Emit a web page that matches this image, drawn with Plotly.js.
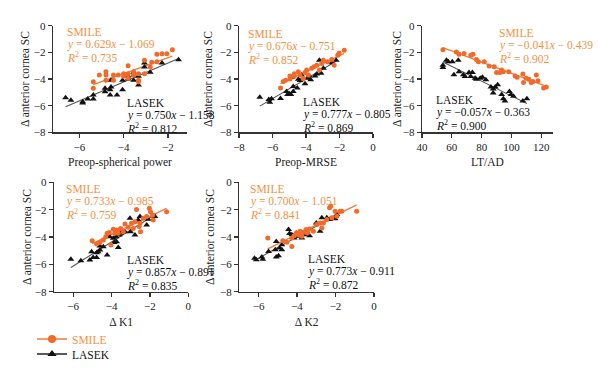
<!DOCTYPE html>
<html><head><meta charset="utf-8">
<script src="https://cdn.plot.ly/plotly-3.0.1.min.js"></script>
<style>html,body{margin:0;padding:0;background:#fff}#chart{width:600px;height:379px}</style>
</head><body><div id="chart"></div>
<script>
// ---------- Data ----------
// Panel 1: Preop-spherical power
var p1SmileX = [-5.37,-5.37,-5.1,-4.8,-4.8,-4.8,-4.46,-4.46,-4.24,-4.0,-4.0,-3.8,-3.8,-3.8,-3.55,-3.55,-3.33,-3.33,-3.33,-3.06,-3.06,-2.8,-2.5,-2.5,-2.27,-2.05,-1.8,-2.73];
var p1SmileY = [-4.2,-4.7,-3.7,-4.1,-3.45,-3.7,-3.7,-4.1,-3.7,-3.6,-3.8,-3.0,-3.6,-3.95,-3.45,-3.7,-3.6,-4.1,-4.2,-2.6,-3.6,-3.1,-2.15,-2.7,-2.1,-2.1,-1.8,-2.75];
var p1LasekX = [-6.62,-6.38,-5.85,-5.85,-5.62,-5.37,-5.37,-4.84,-4.84,-4.61,-4.61,-4.57,-4.57,-4.3,-4.05,-4.05,-3.8,-3.8,-3.55,-3.55,-3.33,-3.33,-3.06,-3.06,-2.8,-2.27,-1.52,-3.55];
var p1LasekY = [-5.4,-5.6,-5.7,-5.8,-5.5,-5.2,-5.5,-4.7,-4.95,-4.8,-5.2,-4.1,-4.6,-5.2,-4.8,-4.1,-4.0,-3.8,-3.5,-4.1,-4.45,-3.8,-3.1,-2.8,-3.5,-2.8,-2.55,-3.7];
// Panel 2: Preop-MRSE
var p2SmileX = [-5.52,-5.36,-5.22,-4.96,-4.96,-4.7,-4.7,-4.46,-4.36,-4.06,-3.96,-3.86,-3.66,-3.52,-3.36,-3.2,-3.06,-2.96,-2.72,-2.46,-2.32,-2.1,-2.02,-1.72,-4.16];
var p2SmileY = [-4.68,-4.19,-4.1,-4.0,-3.77,-3.6,-3.8,-3.45,-3.7,-3.52,-3.33,-3.7,-3.2,-3.08,-2.96,-3.33,-2.83,-2.59,-2.71,-2.54,-2.96,-2.22,-2.04,-1.85,-3.99];
var p2LasekX = [-6.76,-6.22,-6.16,-6.06,-5.52,-5.16,-5.1,-5.0,-4.9,-4.86,-4.76,-4.52,-4.46,-4.36,-4.26,-4.06,-3.92,-3.8,-3.72,-3.46,-3.36,-3.2,-3.1,-2.96,-2.46,-2.2,-4.76];
var p2LasekY = [-5.37,-5.54,-5.74,-5.49,-5.47,-4.93,-5.17,-5.1,-5.17,-3.87,-4.56,-4.68,-4.01,-4.11,-3.7,-4.36,-3.94,-3.77,-4.06,-3.77,-3.62,-2.59,-3.57,-3.2,-2.78,-2.59,-4.93];
// Panel 3: LT/AD
var p3SmileX = [54,63,64.8,68.2,72.7,74.2,76.5,77.8,81.7,85,88.4,90,92.3,93.4,94.5,98.1,102.4,103.7,107.6,108,111.6,113.2,114.3,116.6,117.7,121.5,123.3,109.8];
var p3SmileY = [-1.8,-1.97,-2.14,-2.09,-2.22,-2.14,-2.54,-2.71,-2.71,-3.03,-3.08,-3.52,-3.52,-3.33,-3.45,-3.45,-3.77,-3.87,-3.62,-4.26,-4.01,-4.26,-4.19,-3.7,-4.14,-4.68,-4.6,-3.94];
var p3LasekX = [54,54,56.4,57.6,60.3,61.4,64.3,64.8,67.7,68.8,71.5,72.7,73.8,75.6,76.5,79,80.5,82.8,86.2,87.7,89.1,90.7,93.4,94.5,95.6,98.6,99.7,101.3,107.6,110.3,87.7];
var p3LasekY = [-2.96,-3.13,-2.59,-2.71,-2.71,-3.69,-2.59,-3.45,-3.69,-3.82,-3.52,-3.82,-3.52,-3.94,-4.01,-3.94,-3.87,-4.06,-4.6,-4.75,-4.6,-4.43,-5.17,-5.49,-5.66,-4.93,-5.17,-5.3,-5.66,-5.49,-5.05];
// Panel 4: Δ K1
var p4SmileX = [-5.01,-4.78,-4.61,-4.43,-4.30,-4.23,-4.12,-4.03,-3.91,-3.83,-3.74,-3.65,-3.53,-3.39,-3.30,-3.13,-2.96,-2.87,-2.78,-2.70,-2.56,-2.49,-2.35,-2.17,-2.03,-1.97,-1.86,-1.83,-1.13,-2.52];
var p4SmileY = [-4.27,-4.51,-4.41,-4.22,-3.98,-3.73,-3.68,-4.59,-3.44,-3.73,-3.49,-3.73,-3.37,-3.61,-3.05,-3.29,-3.0,-3.37,-2.88,-1.98,-3.24,-3.61,-2.63,-2.51,-1.90,-2.15,-2.39,-2.76,-2.15,-3.0];
var p4LasekX = [-6.12,-5.6,-5.13,-5.04,-4.96,-4.78,-4.78,-4.70,-4.61,-4.61,-4.43,-4.23,-4.09,-3.91,-3.77,-3.74,-3.65,-3.6,-3.53,-3.30,-3.04,-3.01,-2.78,-2.61,-2.52,-2.17,-2.09,-1.74,-3.86];
var p4LasekY = [-5.63,-5.73,-5.68,-5.07,-5.49,-5.49,-5.15,-5.07,-4.95,-4.66,-4.71,-5.32,-3.98,-4.10,-3.98,-4.34,-4.76,-3.85,-3.73,-3.61,-2.63,-3.61,-3.85,-2.76,-2.51,-3.12,-2.71,-2.51,-4.41];
// Panel 5: Δ K2
var p5SmileX = [-5.52,-4.74,-4.53,-4.27,-4.27,-4.15,-4.04,-3.92,-3.84,-3.75,-3.66,-3.53,-3.46,-3.35,-3.15,-2.97,-2.71,-2.63,-2.45,-2.31,-2.25,-2.19,-2.02,-1.93,-1.76,-1.67,-0.9,-2.80];
var p5SmileY = [-4.07,-4.27,-4.39,-4.69,-4.07,-3.90,-3.71,-3.83,-3.58,-3.95,-3.66,-3.46,-3.71,-3.41,-3.58,-3.09,-3.34,-2.97,-2.72,-1.87,-1.74,-2.60,-2.11,-2.48,-2.11,-2.11,-2.11,-2.97];
var p5LasekX = [-6.21,-6.12,-5.83,-5.78,-5.48,-5.13,-5.08,-5.08,-4.96,-4.91,-4.79,-4.79,-4.44,-4.39,-4.27,-4.15,-4.04,-3.92,-3.75,-3.58,-3.49,-3.35,-3.0,-2.80,-2.71,-2.45,-2.31,-2.02,-1.93];
var p5LasekY = [-5.55,-5.67,-5.47,-5.62,-5.06,-4.93,-5.47,-4.32,-5.38,-4.81,-4.93,-4.56,-3.46,-3.75,-3.83,-4.07,-3.71,-3.95,-4.07,-3.83,-3.58,-3.90,-2.97,-3.58,-2.60,-2.60,-2.72,-2.67,-2.36];

var xTitles = ["Preop-spherical power", "Preop-MRSE", "LT/AD", "\u0394 K1", "\u0394 K2"];
var yTitle = "\u0394 anterior cornea SC";
var smileEq = ["<i>y</i> = 0.629<i>x</i> \u2212 1.069","<i>y</i> = 0.676<i>x</i> \u2212 0.751","<i>y</i> = \u22120.041<i>x</i> \u2212 0.439","<i>y</i> = 0.733<i>x</i> \u2212 0.985","<i>y</i> = 0.700<i>x</i> \u2212 1.051"];
var smileR2 = ["0.735","0.852","0.902","0.759","0.841"];
var lasekEq = ["<i>y</i> = 0.750<i>x</i> \u2212 1.158","<i>y</i> = 0.777<i>x</i> \u2212 0.805","<i>y</i> = \u22120.057<i>x</i> \u2212 0.363","<i>y</i> = 0.857<i>x</i> \u2212 0.891","<i>y</i> = 0.773<i>x</i> \u2212 0.911"];
var lasekR2 = ["0.812","0.869","0.900","0.835","0.872"];
var seriesNames = ["SMILE","LASEK"];

// ---------- Styling ----------
var W = 600, H = 379;
var FONT = "Liberation Serif, Times New Roman, serif";
var ORANGE_PT = "#F26A2A", ORANGE_LN = "#F27B38", ORANGE_TX = "#F4923F";
var BLACK_PT = "#111111", BLACK_LN = "#555555";

var panels = [
  {sx:p1SmileX, sy:p1SmileY, lx:p1LasekX, ly:p1LasekY, dom:[53,187], row:0, xr:[-7.19,-1.14], xt:[-6,-4,-2],
   sTxt:[65,32], lTxt:[125,103], yt:25},
  {sx:p2SmileX, sy:p2SmileY, lx:p2LasekX, ly:p2LasekY, dom:[239,373], row:0, xr:[-8,0], xt:[-8,-6,-4,-2,0],
   sTxt:[246,34], lTxt:[301,102], yt:208},
  {sx:p3SmileX, sy:p3SmileY, lx:p3LasekX, ly:p3LasekY, dom:[422,553], row:0, xr:[40,127.8], xt:[40,60,80,100,120],
   sTxt:[497,33], lTxt:[434,100], yt:397},
  {sx:p4SmileX, sy:p4SmileY, lx:p4LasekX, ly:p4LasekY, dom:[54,188.3], row:1, xr:[-7,0], xt:[-6,-4,-2,0],
   sTxt:[64,189], lTxt:[125,260], yt:27},
  {sx:p5SmileX, sy:p5SmileY, lx:p5LasekX, ly:p5LasekY, dom:[239.3,374], row:1, xr:[-7,0], xt:[-6,-4,-2,0],
   sTxt:[248,189], lTxt:[306,259], yt:210}
];
var rowY = [[25.7,132.3],[182.3,291.7]];

function fit(xs, ys) {
  var n = xs.length, mx = 0, my = 0;
  for (var i = 0; i < n; i++) { mx += xs[i]; my += ys[i]; }
  mx /= n; my /= n;
  var sxx = 0, sxy = 0;
  for (var i = 0; i < n; i++) { sxx += (xs[i]-mx)*(xs[i]-mx); sxy += (xs[i]-mx)*(ys[i]-my); }
  var b = sxy / sxx, a = my - b*mx;
  var x0 = Math.min.apply(null, xs), x1 = Math.max.apply(null, xs);
  return {x:[x0,x1], y:[a+b*x0, a+b*x1]};
}

var traces = [], annotations = [];
var layout = {
  width: W, height: H, margin:{l:0,r:0,t:0,b:0},
  paper_bgcolor:"#fff", plot_bgcolor:"#fff",
  font:{family:FONT, size:11, color:"#222"},
  showlegend:true,
  legend:{x:32/W, y:1-339/H, xanchor:"left", yanchor:"middle", font:{family:FONT, size:11.5, color:ORANGE_TX},
          bgcolor:"rgba(0,0,0,0)", itemwidth:30},
  legend2:{x:32/W, y:1-354/H, xanchor:"left", yanchor:"middle", font:{family:FONT, size:11.5, color:"#111"},
          bgcolor:"rgba(0,0,0,0)", itemwidth:30},
  annotations: annotations
};

function px2paper(px, py) { return {x: px/W, y: 1 - py/H}; }
function addText(pos, dy, text, color) {
  var p = px2paper(pos[0], pos[1] + dy);
  annotations.push({xref:"paper", yref:"paper", x:p.x, y:p.y, xanchor:"left", yanchor:"middle",
    text:text, showarrow:false, font:{family:FONT, size:11.5, color:color}});
}

panels.forEach(function(p, i) {
  var k = i + 1;
  var xa = "x" + (k === 1 ? "" : k), ya = "y" + (k === 1 ? "" : k);
  var ry = rowY[p.row];
  layout["xaxis" + (k === 1 ? "" : k)] = {
    domain:[p.dom[0]/W, p.dom[1]/W], range:p.xr, tickvals:p.xt, anchor:ya,
    showline:true, linecolor:"#333", linewidth:1.3, ticks:"outside", ticklen:4, tickwidth:1.2, tickcolor:"#333",
    showgrid:false, zeroline:false, tickfont:{family:FONT, size:11, color:"#222"},
    title:{text:xTitles[i], font:{family:FONT, size:11.5, color:"#222"}, standoff:6}
  };
  layout["yaxis" + (k === 1 ? "" : k)] = {
    domain:[1 - ry[1]/H, 1 - ry[0]/H], range:[-8,0], tickvals:[-8,-6,-4,-2,0], anchor:xa,
    showline:true, linecolor:"#333", linewidth:1.3, ticks:"outside", ticklen:4, tickwidth:1.2, tickcolor:"#333",
    showgrid:false, zeroline:false, tickfont:{family:FONT, size:11, color:"#222"}
  };
  // y-axis title (rotated), placed as in the reference
  var c = px2paper(p.yt, (ry[0] + ry[1]) / 2);
  annotations.push({xref:"paper", yref:"paper", x:c.x, y:c.y, xanchor:"center", yanchor:"middle",
    text:yTitle, textangle:-90, showarrow:false, font:{family:FONT, size:11.5, color:"#222"}});

  var fs = fit(p.sx, p.sy), fl = fit(p.lx, p.ly);
  traces.push({x:fl.x, y:fl.y, xaxis:xa, yaxis:ya, mode:"lines", line:{color:BLACK_LN, width:1.1}, showlegend:false, hoverinfo:"skip"});
  traces.push({x:fs.x, y:fs.y, xaxis:xa, yaxis:ya, mode:"lines", line:{color:ORANGE_LN, width:1.3}, showlegend:false, hoverinfo:"skip"});
  traces.push({x:p.lx, y:p.ly, xaxis:xa, yaxis:ya, mode:"markers", type:"scatter",
    marker:{symbol:"triangle-up", size:6, color:BLACK_PT}, showlegend:false, name:seriesNames[1]});
  traces.push({x:p.sx, y:p.sy, xaxis:xa, yaxis:ya, mode:"markers", type:"scatter",
    marker:{symbol:"circle", size:5, color:ORANGE_PT}, showlegend:false, name:seriesNames[0]});

  addText(p.sTxt, 0, seriesNames[0], ORANGE_TX);
  addText(p.sTxt, 12.5, smileEq[i], ORANGE_TX);
  addText(p.sTxt, 25, "<i>R</i><sup>2</sup> = " + smileR2[i], ORANGE_TX);
  addText(p.lTxt, 0, seriesNames[1], "#111");
  addText(p.lTxt, 12.5, lasekEq[i], "#111");
  addText(p.lTxt, 25, "<i>R</i><sup>2</sup> = " + lasekR2[i], "#111");
});

// legend entries (one legend box per series so the row spacing matches)
traces.push({x:[null], y:[null], mode:"lines+markers", name:seriesNames[0], legend:"legend",
  line:{color:ORANGE_LN, width:1.3}, marker:{symbol:"circle", size:8, color:ORANGE_PT}, showlegend:true});
traces.push({x:[null], y:[null], mode:"lines+markers", name:seriesNames[1], legend:"legend2",
  line:{color:"#222", width:1.3}, marker:{symbol:"triangle-up", size:8, color:BLACK_PT}, showlegend:true});

Plotly.newPlot("chart", traces, layout, {staticPlot:true, displayModeBar:false});
</script></body></html>
